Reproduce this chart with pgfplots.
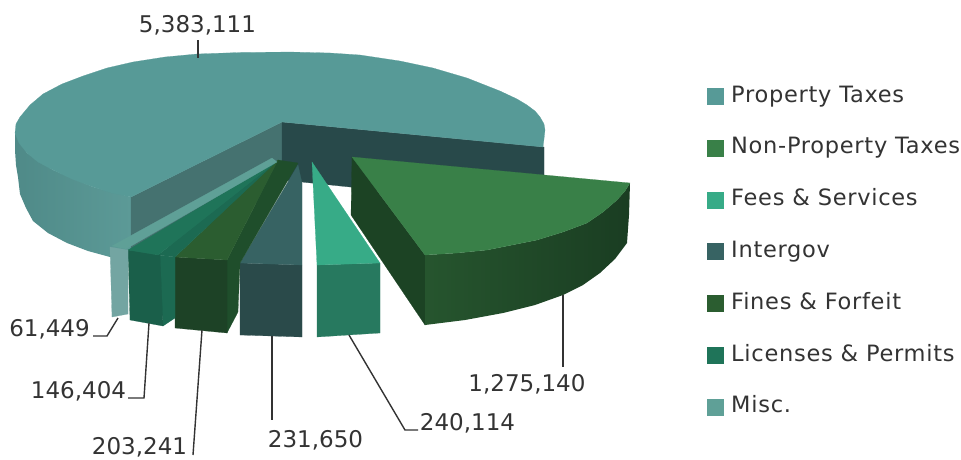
\documentclass[border=0pt]{standalone}
\usepackage{pgfplots}
\usepackage{fontspec}
\setmainfont{DejaVu Sans}
\pgfplotsset{compat=1.18}

% slice colours: top faces, side faces
\definecolor{propTop}{HTML}{579A97}
\definecolor{propSideA}{HTML}{4F8A88}
\definecolor{propSideB}{HTML}{5C9A97}
\definecolor{propCut}{HTML}{457270}
\definecolor{propBack}{HTML}{28494A}
\definecolor{nonTop}{HTML}{398048}
\definecolor{nonSideA}{HTML}{26552E}
\definecolor{nonSideB}{HTML}{1A3D22}
\definecolor{nonCut}{HTML}{1C4324}
\definecolor{feeTop}{HTML}{37AB87}
\definecolor{feeSide}{HTML}{27795F}
\definecolor{intTop}{HTML}{376363}
\definecolor{intSide}{HTML}{2A4A4A}
\definecolor{finTop}{HTML}{2B5D30}
\definecolor{finSide}{HTML}{1D4226}
\definecolor{finEnd}{HTML}{1F4E2B}
\definecolor{licTop}{HTML}{1F7459}
\definecolor{licSide}{HTML}{1A5F4A}
\definecolor{licEnd}{HTML}{1C6A52}
\definecolor{misTop}{HTML}{5FA097}
\definecolor{misSide}{HTML}{73A5A2}
\definecolor{lblText}{HTML}{333333}

\pgfplotsset{
  face/.style={fill=#1,draw=#1,line width=0.2pt,mark=none},
  leader/.style={draw=lblText,line width=1.4pt,mark=none,forget plot},
}

\begin{document}
\begin{tikzpicture}
\begin{axis}[
  width=961pt,height=459pt,scale only axis,
  xmin=0,xmax=961,ymin=0,ymax=459,y dir=reverse,
  hide axis,clip=false,
  legend cell align=left,
  legend image code/.code={
    \draw[#1] (0pt,-7.5pt) rectangle (16pt,8.5pt);
    \path (24pt,0pt);
  },
  legend style={
    at={(0.7357,0.8104)},anchor=north west,draw=none,fill=none,
    font=\fontsize{22.5}{26}\addfontfeatures{LetterSpace=3.2}\color{lblText},
    row sep=32.8pt,inner sep=0pt,outer sep=0pt,
    nodes={inner sep=0pt,text height=15pt,text depth=4pt},
  },
]
% page frame
\path (axis cs:0,0) (axis cs:961,459);

% Property Taxes: outer wall, cut faces, top
\addplot[forget plot,left color=propSideA,right color=propSideB,draw=none,mark=none] coordinates {
 (131,197)(93,187)(53,170)(27,153)(15,133)(15,150)(16,165)(18,177)(20,194)(26,208)(33,221)(48,233)(67,243)(88,251)(110,257)(131,262)} -- cycle;
\addplot[forget plot,face=propCut] coordinates {(131,197)(282,122)(282,190)(131,265)} -- cycle;
\addplot[forget plot,face=propBack] coordinates {(282,122)(544,147)(544,207)(350,187)(282,180)} -- cycle;
\addplot[face=propTop] coordinates {
 (131,197)(112,193)(93,187)(72,179)(53,170)(38,162)(27,153)(19,143)(15,133)(16,124)(20,117)(30,105)(43,94)(62,84)(83,76)(107,68)(133,62)(165,57)(197,54)(240,52.5)(290,52)(330,53)(360,55)(400,61)(433,68)(467,78)(500,91)(517,99)(527,105)(535,111)(540,117)(544,124)(545,130)(544,139)(543,147)(282,122)} -- cycle;
\addlegendentry{Property Taxes}

% Non-Property Taxes
\addplot[forget plot,face=nonCut] coordinates {(352,157)(425,255)(425,325)(351,215)} -- cycle;
\addplot[forget plot,left color=nonSideA,right color=nonSideB,draw=none,mark=none] coordinates {
 (425,255)(457,253)(487,250)(512,245)(537,240)(563,232)(587,223)(603,212)(617,200)(625,191)(630,183)(629,215)(627,243)(615,259)(600,273)(583,285)(563,295)(535,305)(503,313)(465,320)(425,325)} -- cycle;
\addplot[face=nonTop] coordinates {
 (352,157)(630,183)(625,191)(617,200)(603,212)(587,223)(563,232)(537,240)(512,245)(487,250)(457,253)(425,255)} -- cycle;
\addlegendentry{Non-Property Taxes}

% Fees & Services
\addplot[forget plot,face=feeSide] coordinates {(317,265)(380,263)(380,333)(317,337)} -- cycle;
\addplot[face=feeTop] coordinates {(312,162)(380,263)(317,265)} -- cycle;
\addlegendentry{Fees \& Services}

% Intergov
\addplot[forget plot,face=intSide] coordinates {(240,263)(302,265)(302,337)(240,335)} -- cycle;
\addplot[face=intTop] coordinates {(298,165)(302,183)(302,265)(240,263)} -- cycle;
\addlegendentry{Intergov}

% Fines & Forfeit
\addplot[forget plot,face=finEnd] coordinates {(298,163)(278,160)(227,260)(227,333)(238,312)(240,263)} -- cycle;
\addplot[forget plot,face=finSide] coordinates {(175,257)(227,260)(227,333)(175,328)} -- cycle;
\addplot[face=finTop] coordinates {(278,160)(175,257)(227,260)} -- cycle;
\addlegendentry{Fines \& Forfeit}

% Licenses & Permits
\addplot[forget plot,face=licEnd] coordinates {(276,162)(158,255)(175,257)} -- cycle;
\addplot[forget plot,face=licEnd] coordinates {(158,255)(175,257)(175,318)(163,326)} -- cycle;
\addplot[forget plot,face=licSide] coordinates {(128,250)(160,255)(163,326)(130,320)} -- cycle;
\addplot[face=licTop] coordinates {(276,162)(128,250)(158,255)} -- cycle;
\addlegendentry{Licenses \& Permits}

% Misc.
\addplot[forget plot,face=misSide] coordinates {(110,247)(128,250)(128,314)(112,317)} -- cycle;
\addplot[face=misTop] coordinates {(272,158)(112,246)(126,249)(277,162)} -- cycle;
\addlegendentry{Misc.}

% leader lines
\addplot[leader] coordinates {(198,40)(198,58)};
\addplot[leader] coordinates {(563,295)(563,367)};
\addplot[leader] coordinates {(349,335)(405,430)(418,430)};
\addplot[leader] coordinates {(272,336)(272,420)};
\addplot[leader] coordinates {(202,330)(193,455)};
\addplot[leader] coordinates {(149,323)(144,398)(128,398)};
\addplot[leader] coordinates {(118,318)(107,336)(93,336)};

% value labels
\begin{scope}[every node/.style={font=\fontsize{23}{27}\selectfont,text=lblText,inner sep=0pt,anchor=center}]
\node at (axis cs:197.5,25) {5,383,111};
\node at (axis cs:527,384) {1,275,140};
\node at (axis cs:467.5,423) {240,114};
\node at (axis cs:315.5,440) {231,650};
\node at (axis cs:139.5,447) {203,241};
\node at (axis cs:78.5,391) {146,404};
\node at (axis cs:49.5,329) {61,449};
\end{scope}
\end{axis}
\end{tikzpicture}
\end{document}
